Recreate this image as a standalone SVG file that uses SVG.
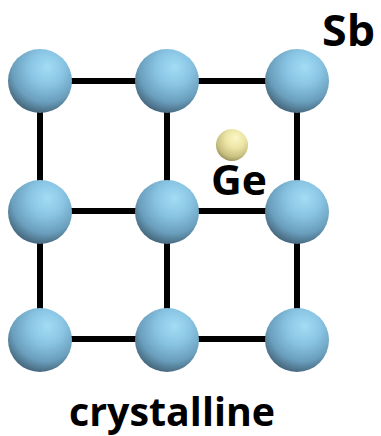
<svg xmlns="http://www.w3.org/2000/svg" width="381" height="436" viewBox="0 0 381 436">
  <defs>
    <radialGradient id="sb" cx="0.58" cy="0.32" r="0.75" fx="0.62" fy="0.28">
      <stop offset="0" stop-color="#a2dcf5"/>
      <stop offset="0.35" stop-color="#8ac6e4"/>
      <stop offset="0.7" stop-color="#6a9fbd"/>
      <stop offset="1" stop-color="#3a5568"/>
    </radialGradient>
    <radialGradient id="ge" cx="0.58" cy="0.32" r="0.75" fx="0.62" fy="0.28">
      <stop offset="0" stop-color="#fbf8c8"/>
      <stop offset="0.4" stop-color="#ece5a6"/>
      <stop offset="0.75" stop-color="#c8c080"/>
      <stop offset="1" stop-color="#8a8450"/>
    </radialGradient>
  </defs>
  <style>
    .bond { stroke: #000; stroke-width: 6; fill: none; }
    .atom { fill: url(#sb); }
    .label { font-family: "Open Sans", "Liberation Sans", sans-serif; font-weight: bold; fill: #000; }
  </style>

  <!-- lattice bonds -->
  <g id="bonds">
    <line class="bond" x1="40" y1="81" x2="297" y2="81"/>
    <line class="bond" x1="40" y1="211" x2="297" y2="211"/>
    <line class="bond" x1="40" y1="339" x2="297" y2="339"/>
    <line class="bond" x1="40" y1="81" x2="40" y2="340"/>
    <line class="bond" x1="167" y1="81" x2="167" y2="340"/>
    <line class="bond" x1="297" y1="81" x2="297" y2="340"/>
  </g>

  <!-- Sb atoms -->
  <g id="sb-r1c1"><circle class="atom" cx="40" cy="81" r="32"/></g>
  <g id="sb-r1c2"><circle class="atom" cx="167" cy="81" r="32"/></g>
  <g id="sb-r1c3"><circle class="atom" cx="297" cy="81" r="32"/></g>
  <g id="sb-r2c1"><circle class="atom" cx="40" cy="212" r="32"/></g>
  <g id="sb-r2c2"><circle class="atom" cx="167" cy="212" r="32"/></g>
  <g id="sb-r2c3"><circle class="atom" cx="297" cy="212" r="32"/></g>
  <g id="sb-r3c1"><circle class="atom" cx="40" cy="340" r="32"/></g>
  <g id="sb-r3c2"><circle class="atom" cx="167" cy="340" r="32"/></g>
  <g id="sb-r3c3"><circle class="atom" cx="297" cy="340" r="32"/></g>

  <!-- Ge atom -->
  <g id="ge-atom"><circle cx="232" cy="145" r="16" fill="url(#ge)"/></g>

  <!-- labels -->
  <g id="labels">
    <text class="label" x="322" y="46" font-size="43" textLength="53" lengthAdjust="spacingAndGlyphs">Sb</text>
    <text class="label" x="211" y="195" font-size="41" textLength="56" lengthAdjust="spacingAndGlyphs">Ge</text>
    <text class="label" x="69" y="426" font-size="39" textLength="206" lengthAdjust="spacingAndGlyphs">crystalline</text>
  </g>
</svg>
